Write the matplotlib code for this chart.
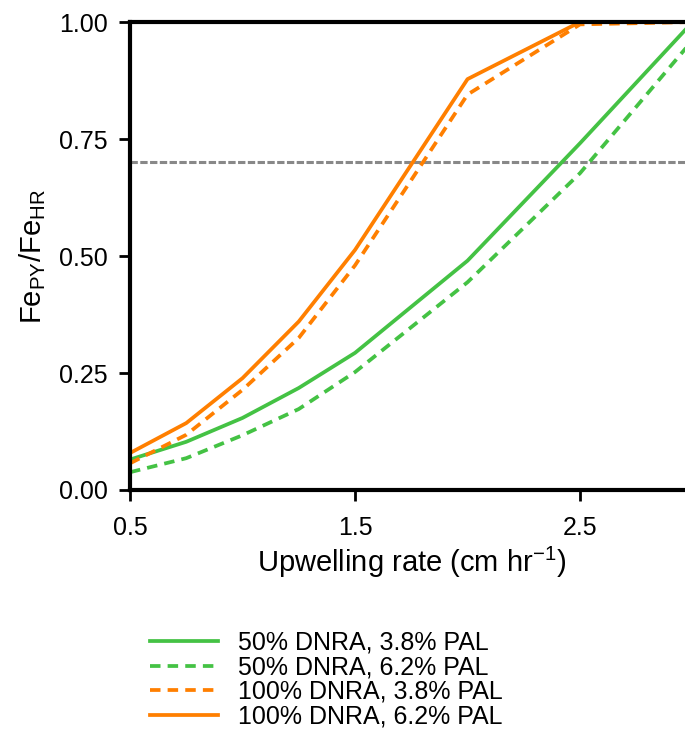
from matplotlib import pyplot as plt
import numpy as np

# upwelling rate (cm/hr) and Fe_PY/Fe_HR for each model run
rate = [0.5, 0.75, 1.0, 1.25, 1.5, 2.0, 2.5, 3.0]
dnra50_pal38 = [0.065, 0.103, 0.154, 0.218, 0.293, 0.49, 0.741, 1.0]
dnra50_pal62 = [0.038, 0.068, 0.117, 0.173, 0.252, 0.444, 0.677, 0.961]
dnra100_pal38 = [0.057, 0.118, 0.214, 0.325, 0.48, 0.845, 0.995, 1.0]
dnra100_pal62 = [0.079, 0.143, 0.239, 0.36, 0.513, 0.878, 1.0, 1.0]
threshold = 0.70

xticks = [0.5, 1.5, 2.5]
yticks = [0.0, 0.25, 0.5, 0.75, 1.0]

green = '#44c244'
orange = '#ff7f00'

plt.rcParams['font.family'] = ['Liberation Sans', 'DejaVu Sans']
plt.rcParams['mathtext.fontset'] = 'custom'
plt.rcParams['mathtext.rm'] = 'Liberation Sans'

fig = plt.figure(figsize=(6.85, 7.44), dpi=100)
ax = fig.add_axes([0.1898, 0.3414, 0.8212, 0.6290])

lw = 2.7
ax.axhline(threshold, color='#888888', lw=2.2, ls=(0, (2.4, 0.8)), zorder=1)
ax.plot(rate, dnra50_pal38, color=green, lw=lw, label='50% DNRA, 3.8% PAL')
ax.plot(rate, dnra50_pal62, color=green, lw=lw, ls=(0, (2.8, 1.9)), label='50% DNRA, 6.2% PAL')
ax.plot(rate, dnra100_pal38, color=orange, lw=lw, ls=(0, (2.8, 1.9)), label='100% DNRA, 3.8% PAL')
ax.plot(rate, dnra100_pal62, color=orange, lw=lw, label='100% DNRA, 6.2% PAL')

ax.set_xlim(0.5, 3.0)
ax.set_ylim(0, 1.0)
ax.set_xticks(xticks)
ax.set_xticklabels(['0.5', '1.5', '2.5'])
ax.set_yticks(yticks)
ax.set_yticklabels(['%.2f' % v for v in yticks])
ax.tick_params(labelsize=18, width=2, length=8, direction='out')
ax.tick_params(axis='x', pad=11)
ax.tick_params(axis='y', pad=8)
for s in ax.spines.values():
    s.set_linewidth(3)
ax.spines['right'].set_visible(False)

ax.set_xlabel('Upwelling rate (cm hr$^{\\mathregular{-1}}$)', fontsize=21, labelpad=3)
ax.set_ylabel('Fe$_{\\mathregular{PY}}$/Fe$_{\\mathregular{HR}}$', fontsize=21, labelpad=8)

fig.legend(loc='upper left', bbox_to_anchor=(0.219, 0.152), frameon=False,
           fontsize=18, handlelength=2.7, handletextpad=0.8, labelspacing=0.02,
           borderpad=0, borderaxespad=0)

fig.savefig('out.png', dpi=100)
